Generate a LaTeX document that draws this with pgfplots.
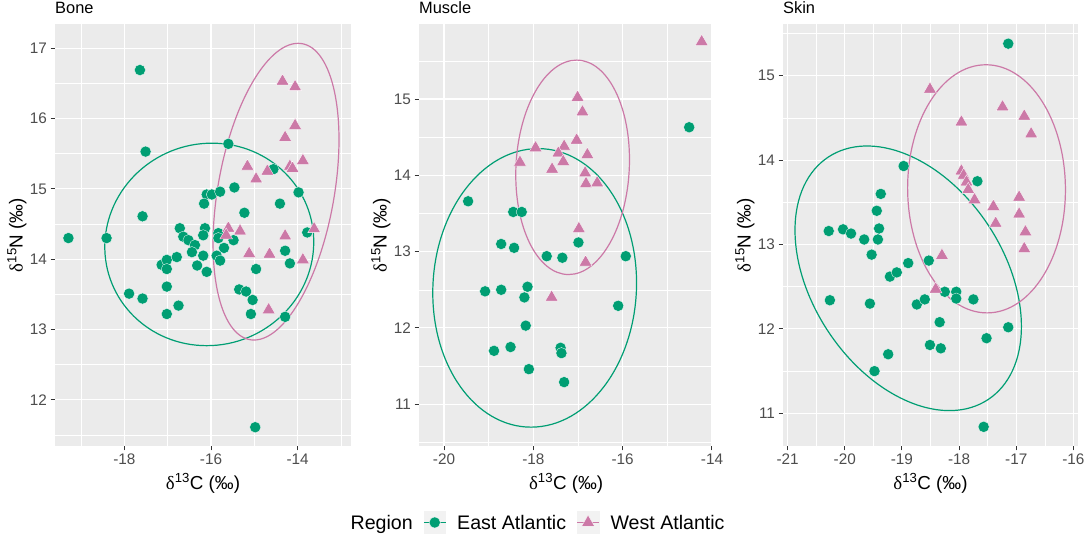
\documentclass[border=0pt]{standalone}
\usepackage{pgfplots}
\pgfplotsset{compat=1.18}
\usepackage{fontspec}
\setmainfont{Liberation Sans}
\newfontfamily\symfont{Liberation Serif}
\definecolor{eagreen}{HTML}{009E73}
\definecolor{wapink}{HTML}{CC79A7}
\definecolor{panelbg}{HTML}{EBEBEB}
\definecolor{keybg}{HTML}{F2F2F2}
\definecolor{tickcol}{HTML}{333333}
\definecolor{ticklab}{HTML}{4D4D4D}
\newcommand{\xt}{{\symfont δ}\textsuperscript{13}C (‰)}
\newcommand{\yt}{{\symfont δ}\textsuperscript{15}N (‰)}
% ellipse: colour, centre x, centre y, conjugate semi-diameters (ux,uy) and (vx,vy)
\newcommand{\ellipsedraw}[7]{%
  \pgfplotsextra{\begin{pgfscope}%
    \pgfpathellipse{\pgfplotspointaxisxy{#2}{#3}}{\pgfplotspointaxisdirectionxy{#4}{#5}}{\pgfplotspointaxisdirectionxy{#6}{#7}}%
    \pgfsetlinewidth{1.2pt}\pgfsetstrokecolor{#1}\pgfusepath{stroke}%
  \end{pgfscope}}}
\pgfplotsset{
  panel/.style={
    scale only axis, anchor=south west, height=422pt,
    axis background/.style={fill=panelbg},
    axis line style={draw=none},
    grid=both,
    major grid style={draw=white, line width=1.1pt},
    minor grid style={draw=white, line width=0.55pt},
    tick align=outside,
    major tick length=4.4pt,
    minor tick length=0pt,
    tick style={draw=tickcol, line width=1pt},
    xtick pos=bottom, ytick pos=left,
    ticklabel style={font=\fontsize{15.3}{16}\selectfont, text=ticklab},
    xticklabel style={anchor=north, inner sep=0pt},
    yticklabel style={anchor=east, inner sep=0pt},
    xticklabel shift=3.5pt, yticklabel shift=3.5pt,
    title style={at={(axis description cs:0,1)}, anchor=base west, inner sep=0pt, yshift=4pt, font=\fontsize{16.4}{18}\selectfont},
    xlabel style={at={(axis description cs:0.5,0)}, anchor=base, inner sep=0pt, yshift=-43pt, font=\fontsize{18.8}{20}\selectfont},
    ylabel style={anchor=base, inner sep=0pt, font=\fontsize{18.8}{20}\selectfont},
    xlabel={\xt}, ylabel={\yt},
  },
  eastpts/.style={only marks, mark=*, color=eagreen, mark size=5.6pt, mark options={draw=white, line width=0.3pt, fill=eagreen}},
  westpts/.style={only marks, mark=triangle*, color=wapink, mark size=7.4pt, mark options={draw=white, line width=0.3pt, fill=wapink}},
  keyimg/.style={legend image code/.code={%
    \fill[keybg] (0pt,-10.85pt) rectangle (21.7pt,10.85pt);
    \draw[##1, line width=1.2pt] (0pt,0pt) -- (21.7pt,0pt);
    \draw[##1] plot coordinates {(10.85pt,0pt)};}},
  nokey/.style={legend image code/.code={}},
}
\begin{document}
\begin{tikzpicture}
\useasboundingbox (0pt,0pt) rectangle (1084pt,536pt);

% ---------------- Bone ----------------
\begin{axis}[panel, at={(55pt,90pt)}, width=296pt,
  xmin=-19.60, xmax=-12.77, ymin=11.343, ymax=17.345,
  xtick={-18,-16,-14}, xticklabels={-18,-16,-14},
  minor xtick={-19,-17,-15,-13},
  ytick={12,13,14,15,16,17}, yticklabels={12,13,14,15,16,17},
  minor ytick={11.5,12.5,13.5,14.5,15.5,16.5},
  ylabel style={at={(axis description cs:-0.1091,0.5)}},
  title={Bone}]
\ellipsedraw{eagreen}{-16.04}{14.21}{2.41}{0}{0.06}{1.44}
\ellipsedraw{wapink}{-14.50}{14.96}{1.36}{0}{0.51}{2.11}
\addplot[eastpts] coordinates {
(-17.64,16.69) (-17.51,15.53) (-19.29,14.30) (-18.41,14.30) (-17.58,14.61)
(-15.60,15.64) (-14.56,15.28) (-13.98,14.95) (-14.41,14.79) (-16.10,14.92)
(-15.98,14.92) (-16.16,14.79) (-15.79,14.96) (-15.46,15.02) (-15.23,14.66)
(-16.72,14.44) (-16.64,14.32) (-16.52,14.27) (-16.37,14.20) (-16.44,14.10)
(-16.14,14.44) (-16.18,14.34) (-15.83,14.37) (-15.83,14.30) (-15.48,14.27)
(-15.70,14.16) (-14.29,14.12) (-13.78,14.38) (-17.14,13.92) (-17.02,13.99)
(-17.02,13.86) (-16.79,14.03) (-16.18,14.05) (-16.32,13.91) (-16.10,13.82)
(-15.87,14.05) (-15.79,13.98) (-14.18,13.94) (-14.96,13.86) (-15.35,13.57)
(-15.19,13.54) (-15.04,13.42) (-15.08,13.22) (-14.29,13.18) (-17.89,13.51)
(-17.58,13.44) (-17.02,13.61) (-16.75,13.34) (-17.02,13.22) (-14.98,11.61)
};
\addplot[westpts] coordinates {
(-14.35,16.53) (-14.06,16.45) (-14.06,15.90) (-14.29,15.73) (-14.18,15.32)
(-14.12,15.29) (-13.88,15.40) (-15.16,15.32) (-14.96,15.14) (-14.70,15.25)
(-15.60,14.44) (-15.65,14.34) (-15.33,14.40) (-13.62,14.43) (-14.29,14.33)
(-15.12,14.08) (-14.65,14.07) (-13.88,13.99) (-14.67,13.28)
};
\end{axis}

% ---------------- Muscle ----------------
\begin{axis}[panel, at={(419pt,90pt)}, width=294.3pt,
  xmin=-20.56, xmax=-13.97, ymin=10.453, ymax=15.983,
  xtick={-20,-18,-16,-14}, xticklabels={-20,-18,-16,-14},
  minor xtick={-19,-17,-15},
  ytick={11,12,13,14,15}, yticklabels={11,12,13,14,15},
  minor ytick={10.5,11.5,12.5,13.5,14.5,15.5},
  ylabel style={at={(axis description cs:-0.1098,0.5)}},
  title={Muscle},
  legend columns=-1,
  legend style={at={(axis description cs:-0.2695,-0.18128)}, anchor=west,
    draw=none, fill=none, inner sep=0pt, outer sep=0pt,
    font=\fontsize{19.6}{21}\selectfont,
    nodes={inner sep=0pt, anchor=west, text depth=0pt},
    /tikz/every odd column/.append style={column sep=11pt},
    /tikz/every even column/.append style={column sep=10.5pt}},
  legend cell align=left]
\addlegendimage{nokey}
\addlegendentry{Region}
\addlegendimage{eastpts, keyimg}
\addlegendentry{East Atlantic}
\addlegendimage{westpts, keyimg}
\addlegendentry{West Atlantic}
\ellipsedraw{eagreen}{-17.97}{12.525}{2.28}{0}{0.08}{1.825}
\ellipsedraw{wapink}{-17.12}{14.105}{1.27}{0}{0.09}{1.405}
\addplot[eastpts, forget plot] coordinates {
(-19.46,13.66) (-18.45,13.52) (-18.26,13.52) (-18.72,13.10) (-18.43,13.05)
(-16.99,13.12) (-14.51,14.63) (-17.70,12.94) (-17.35,12.92) (-15.93,12.94)
(-19.08,12.48) (-18.72,12.50) (-18.13,12.54) (-18.20,12.40) (-16.10,12.29)
(-18.17,12.03) (-18.88,11.70) (-18.51,11.75) (-17.39,11.74) (-17.37,11.67)
(-18.10,11.46) (-17.31,11.29)
};
\addplot[westpts, forget plot] coordinates {
(-14.23,15.75) (-17.01,15.02) (-16.90,14.83) (-17.03,14.46) (-17.95,14.36)
(-17.31,14.38) (-17.44,14.29) (-17.33,14.18) (-16.79,14.27) (-18.30,14.17)
(-17.58,14.08) (-16.84,14.03) (-16.82,13.89) (-16.57,13.90) (-16.98,13.30)
(-16.83,12.86) (-17.59,12.40)
};
\end{axis}

% ---------------- Skin ----------------
\begin{axis}[panel, at={(783pt,90pt)}, width=295pt,
  xmin=-21.08, xmax=-15.92, ymin=10.613, ymax=15.613,
  xtick={-21,-20,-19,-18,-17,-16}, xticklabels={-21,-20,-19,-18,-17,-16},
  minor xtick={-20.5,-19.5,-18.5,-17.5,-16.5},
  ytick={11,12,13,14,15}, yticklabels={11,12,13,14,15},
  minor ytick={11.5,12.5,13.5,14.5,15.5},
  ylabel style={at={(axis description cs:-0.1095,0.5)}},
  title={Skin}]
\ellipsedraw{eagreen}{-18.89}{12.60}{1.98}{-0.57}{0}{1.46}
\ellipsedraw{wapink}{-17.52}{13.66}{1.38}{0}{-0.01}{1.47}
\addplot[eastpts] coordinates {
(-17.14,15.38) (-18.97,13.93) (-17.68,13.75) (-19.37,13.60) (-19.44,13.40)
(-19.40,13.19) (-19.42,13.06) (-20.28,13.16) (-20.03,13.18) (-19.89,13.13)
(-19.66,13.06) (-19.53,12.88) (-18.89,12.78) (-18.53,12.81) (-19.21,12.62)
(-19.09,12.67) (-20.26,12.34) (-19.56,12.30) (-18.74,12.29) (-18.60,12.35)
(-18.25,12.44) (-18.05,12.44) (-18.05,12.36) (-17.75,12.35) (-18.34,12.08)
(-17.14,12.02) (-17.52,11.89) (-18.51,11.81) (-18.32,11.77) (-19.24,11.70)
(-19.48,11.50) (-17.57,10.84)
};
\addplot[westpts] coordinates {
(-18.51,14.84) (-17.24,14.63) (-16.86,14.52) (-16.74,14.31) (-17.96,14.45)
(-17.96,13.87) (-17.92,13.82) (-17.87,13.74) (-17.84,13.65) (-17.73,13.53)
(-17.40,13.45) (-17.36,13.25) (-16.95,13.56) (-16.95,13.36) (-16.84,13.15)
(-16.86,12.95) (-18.30,12.87) (-18.41,12.47)
};
\end{axis}
\end{tikzpicture}
\end{document}
